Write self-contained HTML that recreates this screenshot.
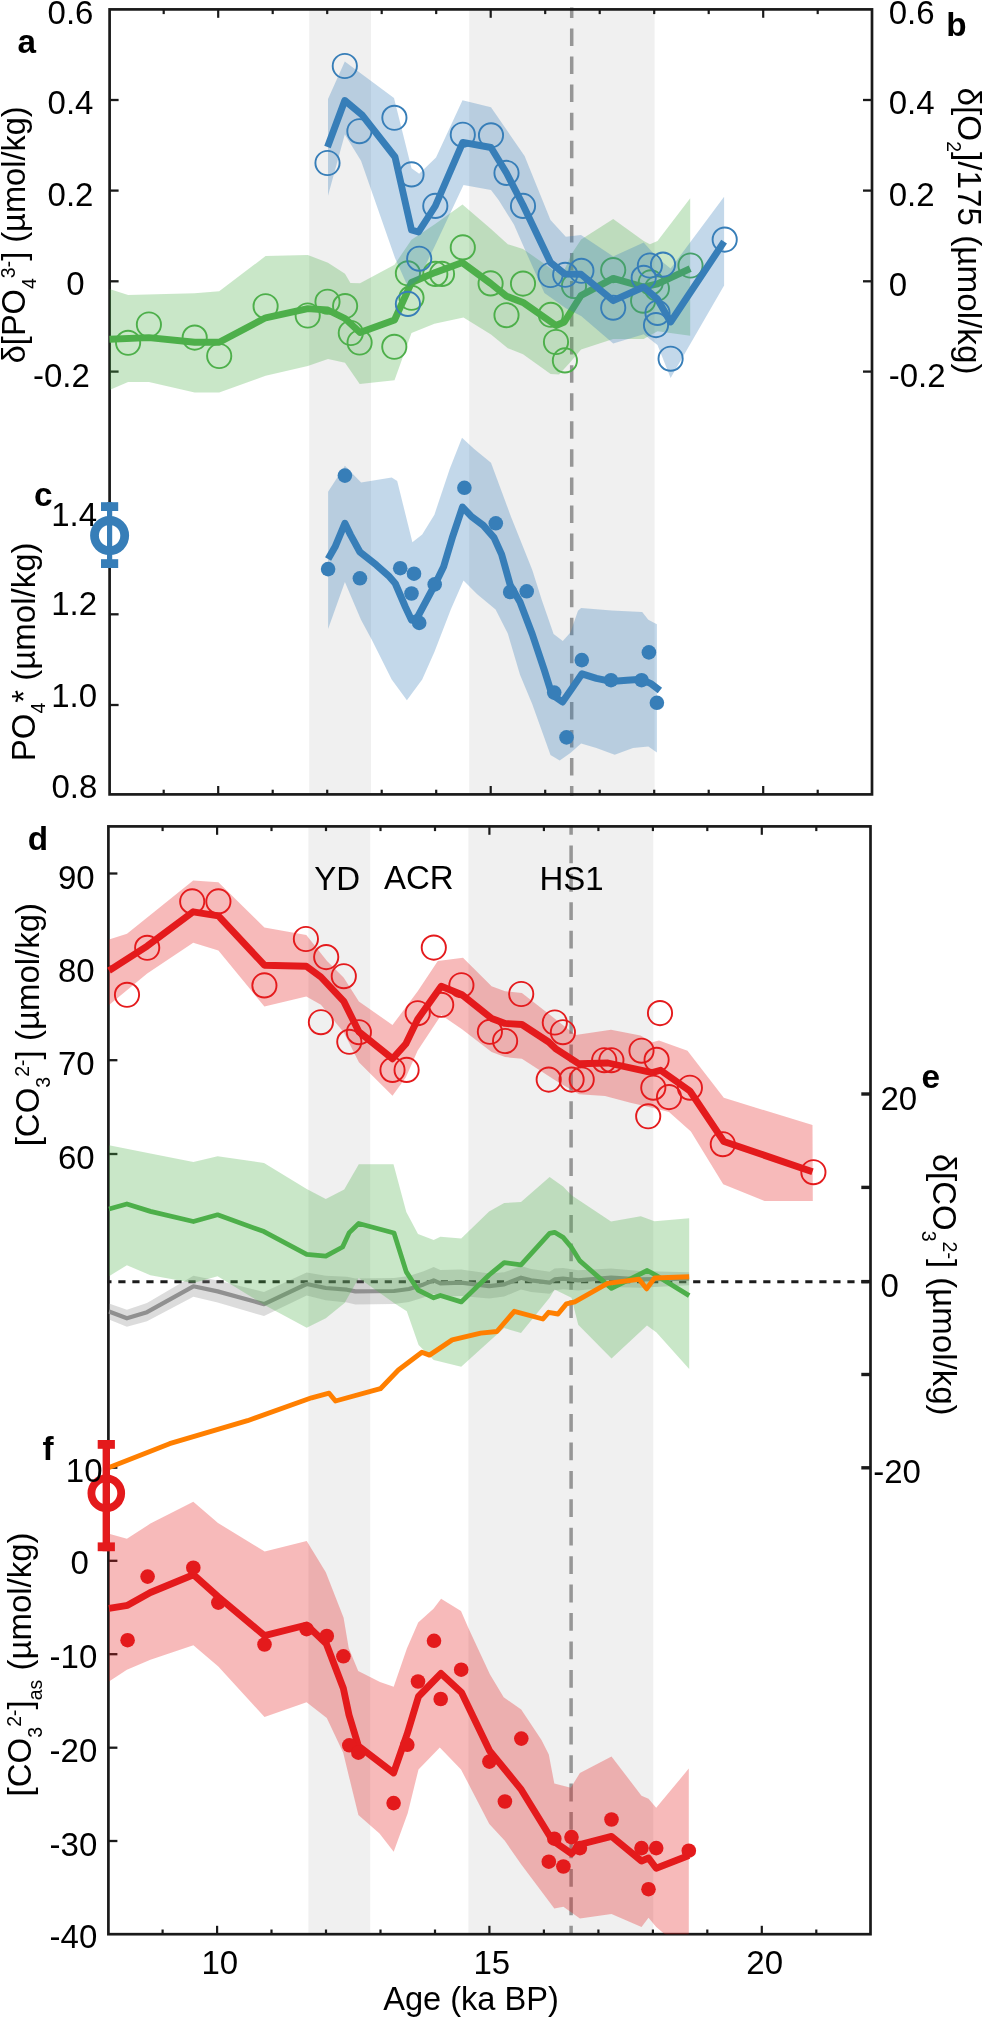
<!DOCTYPE html>
<html lang="en"><head><meta charset="utf-8"><title>Figure</title>
<style>html,body{margin:0;padding:0;background:#fff;}svg{display:block;will-change:transform;}text{font-family:'Liberation Sans', sans-serif;fill:#000;}</style>
</head><body>
<svg width="982" height="2017" viewBox="0 0 982 2017">
<rect width="982" height="2017" fill="#fff"/>
<defs>
<clipPath id="cT"><rect x="109.6" y="9.4" width="762.4" height="785.0"/></clipPath>
<clipPath id="cB"><rect x="108.4" y="826.4" width="762.1" height="1107.8"/></clipPath>
</defs>
<rect x="309.2" y="9.4" width="61.8" height="785.0" fill="#f0f0f0"/>
<rect x="469.2" y="9.4" width="185.4" height="785.0" fill="#f0f0f0"/>
<rect x="308.4" y="826.4" width="61.8" height="1107.8" fill="#f0f0f0"/>
<rect x="468.4" y="826.4" width="184.9" height="1107.8" fill="#f0f0f0"/>
<line x1="571.7" x2="571.7" y1="7.5" y2="796" stroke="#969696" stroke-width="3.5" stroke-dasharray="17.5 10.56" stroke-dashoffset="7.1"/>
<line x1="571.1" x2="571.1" y1="825.2" y2="1933" stroke="#969696" stroke-width="3.5" stroke-dasharray="17.8 10.63" stroke-dashoffset="8.2"/>
<g stroke="#1a1a1a" fill="none" stroke-linecap="butt">
<rect x="109.6" y="9.4" width="762.4" height="785.0" stroke-width="2.7"/>
<line x1="163.7" x2="163.7" y1="9.4" y2="14.1" stroke-width="2.2"/>
<line x1="163.7" x2="163.7" y1="794.4" y2="789.7" stroke-width="2.2"/>
<line x1="218.2" x2="218.2" y1="9.4" y2="17.8" stroke-width="2.2"/>
<line x1="218.2" x2="218.2" y1="794.4" y2="786.0" stroke-width="2.2"/>
<line x1="272.7" x2="272.7" y1="9.4" y2="14.1" stroke-width="2.2"/>
<line x1="272.7" x2="272.7" y1="794.4" y2="789.7" stroke-width="2.2"/>
<line x1="327.2" x2="327.2" y1="9.4" y2="14.1" stroke-width="2.2"/>
<line x1="327.2" x2="327.2" y1="794.4" y2="789.7" stroke-width="2.2"/>
<line x1="381.7" x2="381.7" y1="9.4" y2="14.1" stroke-width="2.2"/>
<line x1="381.7" x2="381.7" y1="794.4" y2="789.7" stroke-width="2.2"/>
<line x1="436.2" x2="436.2" y1="9.4" y2="14.1" stroke-width="2.2"/>
<line x1="436.2" x2="436.2" y1="794.4" y2="789.7" stroke-width="2.2"/>
<line x1="490.7" x2="490.7" y1="9.4" y2="17.8" stroke-width="2.2"/>
<line x1="490.7" x2="490.7" y1="794.4" y2="786.0" stroke-width="2.2"/>
<line x1="545.2" x2="545.2" y1="9.4" y2="14.1" stroke-width="2.2"/>
<line x1="545.2" x2="545.2" y1="794.4" y2="789.7" stroke-width="2.2"/>
<line x1="599.7" x2="599.7" y1="9.4" y2="14.1" stroke-width="2.2"/>
<line x1="599.7" x2="599.7" y1="794.4" y2="789.7" stroke-width="2.2"/>
<line x1="654.2" x2="654.2" y1="9.4" y2="14.1" stroke-width="2.2"/>
<line x1="654.2" x2="654.2" y1="794.4" y2="789.7" stroke-width="2.2"/>
<line x1="708.7" x2="708.7" y1="9.4" y2="14.1" stroke-width="2.2"/>
<line x1="708.7" x2="708.7" y1="794.4" y2="789.7" stroke-width="2.2"/>
<line x1="763.2" x2="763.2" y1="9.4" y2="17.8" stroke-width="2.2"/>
<line x1="763.2" x2="763.2" y1="794.4" y2="786.0" stroke-width="2.2"/>
<line x1="817.7" x2="817.7" y1="9.4" y2="14.1" stroke-width="2.2"/>
<line x1="817.7" x2="817.7" y1="794.4" y2="789.7" stroke-width="2.2"/>
</g>
<g stroke="#1a1a1a" fill="none" stroke-linecap="butt">
<rect x="108.4" y="826.4" width="762.1" height="1107.8" stroke-width="2.7"/>
<line x1="162.6" x2="162.6" y1="826.4" y2="831.1" stroke-width="2.2"/>
<line x1="162.6" x2="162.6" y1="1934.2" y2="1929.5" stroke-width="2.2"/>
<line x1="217.1" x2="217.1" y1="826.4" y2="834.8" stroke-width="2.2"/>
<line x1="217.1" x2="217.1" y1="1934.2" y2="1925.8" stroke-width="2.2"/>
<line x1="271.5" x2="271.5" y1="826.4" y2="831.1" stroke-width="2.2"/>
<line x1="271.5" x2="271.5" y1="1934.2" y2="1929.5" stroke-width="2.2"/>
<line x1="326.0" x2="326.0" y1="826.4" y2="831.1" stroke-width="2.2"/>
<line x1="326.0" x2="326.0" y1="1934.2" y2="1929.5" stroke-width="2.2"/>
<line x1="380.5" x2="380.5" y1="826.4" y2="831.1" stroke-width="2.2"/>
<line x1="380.5" x2="380.5" y1="1934.2" y2="1929.5" stroke-width="2.2"/>
<line x1="435.0" x2="435.0" y1="826.4" y2="831.1" stroke-width="2.2"/>
<line x1="435.0" x2="435.0" y1="1934.2" y2="1929.5" stroke-width="2.2"/>
<line x1="489.4" x2="489.4" y1="826.4" y2="834.8" stroke-width="2.2"/>
<line x1="489.4" x2="489.4" y1="1934.2" y2="1925.8" stroke-width="2.2"/>
<line x1="543.9" x2="543.9" y1="826.4" y2="831.1" stroke-width="2.2"/>
<line x1="543.9" x2="543.9" y1="1934.2" y2="1929.5" stroke-width="2.2"/>
<line x1="598.4" x2="598.4" y1="826.4" y2="831.1" stroke-width="2.2"/>
<line x1="598.4" x2="598.4" y1="1934.2" y2="1929.5" stroke-width="2.2"/>
<line x1="652.9" x2="652.9" y1="826.4" y2="831.1" stroke-width="2.2"/>
<line x1="652.9" x2="652.9" y1="1934.2" y2="1929.5" stroke-width="2.2"/>
<line x1="707.3" x2="707.3" y1="826.4" y2="831.1" stroke-width="2.2"/>
<line x1="707.3" x2="707.3" y1="1934.2" y2="1929.5" stroke-width="2.2"/>
<line x1="761.8" x2="761.8" y1="826.4" y2="834.8" stroke-width="2.2"/>
<line x1="761.8" x2="761.8" y1="1934.2" y2="1925.8" stroke-width="2.2"/>
<line x1="816.3" x2="816.3" y1="826.4" y2="831.1" stroke-width="2.2"/>
<line x1="816.3" x2="816.3" y1="1934.2" y2="1929.5" stroke-width="2.2"/>
</g>
<g stroke="#1a1a1a" stroke-width="2.3">
<line x1="109.6" x2="118.6" y1="100.0" y2="100.0"/>
<line x1="109.6" x2="118.6" y1="190.6" y2="190.6"/>
<line x1="109.6" x2="118.6" y1="281.3" y2="281.3"/>
<line x1="109.6" x2="118.6" y1="371.6" y2="371.6"/>
<line x1="109.6" x2="118.6" y1="523.4" y2="523.4"/>
<line x1="109.6" x2="118.6" y1="614.3" y2="614.3"/>
<line x1="109.6" x2="118.6" y1="705.0" y2="705.0"/>
</g>
<g stroke="#1a1a1a" stroke-width="2.3">
<line x1="872.0" x2="863.0" y1="100.0" y2="100.0"/>
<line x1="872.0" x2="863.0" y1="190.6" y2="190.6"/>
<line x1="872.0" x2="863.0" y1="281.3" y2="281.3"/>
<line x1="872.0" x2="863.0" y1="371.6" y2="371.6"/>
</g>
<g stroke="#1a1a1a" stroke-width="2.3">
<line x1="108.4" x2="117.4" y1="873.5" y2="873.5"/>
<line x1="108.4" x2="117.4" y1="966.8" y2="966.8"/>
<line x1="108.4" x2="117.4" y1="1060.2" y2="1060.2"/>
<line x1="108.4" x2="117.4" y1="1154.0" y2="1154.0"/>
<line x1="108.4" x2="117.4" y1="1467.7" y2="1467.7"/>
<line x1="108.4" x2="117.4" y1="1560.8" y2="1560.8"/>
<line x1="108.4" x2="117.4" y1="1654.2" y2="1654.2"/>
<line x1="108.4" x2="117.4" y1="1747.7" y2="1747.7"/>
<line x1="108.4" x2="117.4" y1="1841.0" y2="1841.0"/>
</g>
<g stroke="#1a1a1a" stroke-width="3.4">
<line x1="870.5" x2="861.3" y1="1094.0" y2="1094.0"/>
<line x1="870.5" x2="861.3" y1="1187.4" y2="1187.4"/>
<line x1="870.5" x2="861.3" y1="1281.6" y2="1281.6"/>
<line x1="870.5" x2="861.3" y1="1374.5" y2="1374.5"/>
<line x1="870.5" x2="861.3" y1="1467.8" y2="1467.8"/>
</g>
<line x1="107" x2="870.5" y1="1281.7" y2="1281.7" stroke="#1c1c1c" stroke-width="3" stroke-dasharray="7.2 6.82" stroke-dashoffset="2.7"/>
<g clip-path="url(#cT)">
<polygon points="109.5,289.0 128.1,294.9 194.7,293.3 219.2,291.2 265.6,256.1 307.8,255.1 328.0,262.7 345.0,273.8 350.4,283.0 360.0,283.3 394.5,264.7 411.5,239.7 434.4,224.4 462.5,204.6 491.0,229.0 507.8,244.3 523.0,248.9 556.0,272.0 564.3,270.0 572.0,253.3 581.1,239.6 613.2,219.1 643.7,241.1 649.9,244.2 657.5,241.1 690.2,198.3 690.2,335.8 657.5,331.2 643.7,338.9 613.2,338.9 581.1,349.6 570.0,362.5 559.0,374.5 550.6,374.1 523.0,354.3 507.8,348.2 491.0,334.4 463.5,317.6 434.4,323.7 411.5,332.9 394.5,380.3 359.7,384.1 345.0,362.8 328.0,359.0 307.8,366.0 265.6,375.8 219.2,392.6 194.7,392.6 148.9,381.9 128.1,381.9 109.5,390.0" fill="#4daf4a" fill-opacity="0.3" />
</g>
<polyline points="109.5,339.2 148.9,337.6 194.7,342.2 219.2,342.2 265.6,317.8 307.8,308.6 327.8,310.0 345.0,318.5 360.0,332.6 394.5,320.0 411.5,282.5 435.3,272.4 462.3,262.6 490.6,283.4 506.5,296.2 523.0,302.4 556.0,325.5 564.3,322.0 581.0,295.5 613.2,278.4 643.7,287.0 657.5,283.9 690.2,268.6" fill="none" stroke="#4daf4a" stroke-width="6.9" stroke-linejoin="round" stroke-linecap="butt" />
<g fill="none" stroke="#4daf4a" stroke-width="1.9">
<circle cx="128.1" cy="342.8" r="12.1"/>
<circle cx="148.9" cy="324.5" r="12.1"/>
<circle cx="194.7" cy="337.6" r="12.1"/>
<circle cx="219.2" cy="356.0" r="12.1"/>
<circle cx="265.6" cy="306.2" r="12.1"/>
<circle cx="307.7" cy="315.5" r="12.1"/>
<circle cx="327.5" cy="301.7" r="12.1"/>
<circle cx="345.1" cy="306.1" r="12.1"/>
<circle cx="350.8" cy="333.0" r="12.1"/>
<circle cx="359.6" cy="342.5" r="12.1"/>
<circle cx="394.3" cy="346.8" r="12.1"/>
<circle cx="407.9" cy="273.3" r="12.1"/>
<circle cx="411.5" cy="297.8" r="12.1"/>
<circle cx="435.3" cy="273.9" r="12.1"/>
<circle cx="442.0" cy="273.9" r="12.1"/>
<circle cx="462.8" cy="247.4" r="12.1"/>
<circle cx="490.6" cy="283.4" r="12.1"/>
<circle cx="523.0" cy="283.6" r="12.1"/>
<circle cx="506.5" cy="315.2" r="12.1"/>
<circle cx="550.8" cy="314.8" r="12.1"/>
<circle cx="556.0" cy="342.0" r="12.1"/>
<circle cx="564.9" cy="360.4" r="12.1"/>
<circle cx="574.0" cy="286.0" r="12.1"/>
<circle cx="613.2" cy="270.1" r="12.1"/>
<circle cx="643.1" cy="300.7" r="12.1"/>
<circle cx="650.8" cy="282.4" r="12.1"/>
<circle cx="656.9" cy="288.5" r="12.1"/>
<circle cx="690.5" cy="265.5" r="12.1"/>
</g>
<g clip-path="url(#cT)">
<polygon points="328.0,99.0 344.8,61.4 394.0,98.0 411.5,168.3 419.2,173.8 436.0,157.6 462.5,100.2 491.0,107.2 524.6,156.1 550.5,220.0 565.8,236.8 581.0,235.0 613.2,256.4 643.7,242.6 657.5,258.0 670.6,268.6 724.1,196.8 724.1,285.4 670.6,378.0 657.5,345.0 643.7,334.3 613.2,343.5 581.1,316.0 565.8,308.3 544.4,293.0 526.0,252.0 513.9,224.4 498.6,200.0 491.0,190.0 463.5,185.0 435.3,245.0 418.5,280.0 408.0,287.0 395.0,258.0 361.0,160.7 344.8,134.6 328.0,195.7" fill="#377eb8" fill-opacity="0.3" />
<polygon points="328.1,491.8 344.9,465.8 361.1,482.6 391.7,477.4 397.2,481.1 412.4,542.2 422.2,534.6 434.4,514.7 449.7,468.9 462.0,437.7 474.2,449.0 491.0,462.8 510.8,516.2 532.2,569.7 541.8,600.0 553.6,634.0 562.8,641.1 570.4,632.5 578.0,610.7 581.1,608.1 611.7,610.6 642.2,612.1 648.3,619.7 656.9,624.3 656.9,752.6 648.3,746.5 633.0,748.0 614.7,754.8 596.4,748.0 581.1,743.5 570.4,753.0 559.7,760.6 550.5,755.0 532.2,703.9 520.0,674.7 507.8,633.6 495.6,609.4 477.2,594.2 463.5,580.4 451.0,609.0 434.4,652.0 422.2,679.4 406.9,700.2 391.7,679.4 371.8,639.7 361.1,620.0 344.9,581.9 328.1,629.0" fill="#377eb8" fill-opacity="0.3" />
</g>
<polyline points="327.5,147.0 344.8,100.5 362.0,114.8 395.0,157.0 411.5,230.0 418.5,232.0 435.3,206.0 462.8,142.4 491.0,147.5 506.5,173.0 523.0,205.0 550.5,262.5 564.8,274.0 581.1,274.3 613.2,300.7 643.7,287.0 657.5,299.2 670.6,322.0 724.1,241.7" fill="none" stroke="#377eb8" stroke-width="6.9" stroke-linejoin="round" stroke-linecap="butt" />
<polyline points="328.1,559.0 335.1,546.8 344.9,523.3 350.4,534.6 359.9,552.0 376.4,565.1 388.6,575.8 395.3,583.5 405.4,607.0 411.5,620.0 417.6,617.0 434.7,585.0 443.6,566.7 452.8,536.1 462.5,507.1 471.1,516.2 483.3,525.4 494.0,537.6 501.6,554.4 510.2,585.0 520.0,602.0 532.2,634.0 544.4,670.3 552.0,694.6 562.5,702.0 571.9,688.5 582.0,673.8 596.4,678.4 611.0,681.4 626.9,680.2 641.6,679.3 651.4,683.9 659.9,690.6" fill="none" stroke="#377eb8" stroke-width="7.0" stroke-linejoin="round" stroke-linecap="butt" />
<g fill="none" stroke="#377eb8" stroke-width="1.9">
<circle cx="327.5" cy="163.0" r="12.1"/>
<circle cx="344.8" cy="66.0" r="12.1"/>
<circle cx="359.4" cy="131.2" r="12.1"/>
<circle cx="394.4" cy="117.8" r="12.1"/>
<circle cx="411.5" cy="174.4" r="12.1"/>
<circle cx="435.3" cy="205.9" r="12.1"/>
<circle cx="419.2" cy="258.7" r="12.1"/>
<circle cx="407.9" cy="303.9" r="12.1"/>
<circle cx="462.8" cy="134.7" r="12.1"/>
<circle cx="491.0" cy="135.3" r="12.1"/>
<circle cx="506.5" cy="172.9" r="12.1"/>
<circle cx="523.0" cy="205.9" r="12.1"/>
<circle cx="550.5" cy="275.0" r="12.1"/>
<circle cx="565.2" cy="274.8" r="12.1"/>
<circle cx="581.4" cy="270.8" r="12.1"/>
<circle cx="613.2" cy="307.7" r="12.1"/>
<circle cx="643.7" cy="277.8" r="12.1"/>
<circle cx="649.9" cy="265.5" r="12.1"/>
<circle cx="663.0" cy="264.6" r="12.1"/>
<circle cx="657.5" cy="312.9" r="12.1"/>
<circle cx="656.0" cy="325.1" r="12.1"/>
<circle cx="670.6" cy="358.7" r="12.1"/>
<circle cx="724.7" cy="239.6" r="12.1"/>
</g>
<g fill="#377eb8">
<circle cx="328.1" cy="569.1" r="7.3"/>
<circle cx="344.9" cy="475.6" r="7.3"/>
<circle cx="359.9" cy="578.3" r="7.3"/>
<circle cx="400.2" cy="568.2" r="7.3"/>
<circle cx="414.0" cy="573.7" r="7.3"/>
<circle cx="411.5" cy="593.5" r="7.3"/>
<circle cx="419.2" cy="622.9" r="7.3"/>
<circle cx="434.7" cy="584.4" r="7.3"/>
<circle cx="464.4" cy="487.8" r="7.3"/>
<circle cx="495.8" cy="523.3" r="7.3"/>
<circle cx="510.2" cy="592.0" r="7.3"/>
<circle cx="526.7" cy="591.3" r="7.3"/>
<circle cx="554.2" cy="692.6" r="7.3"/>
<circle cx="566.5" cy="737.4" r="7.3"/>
<circle cx="581.8" cy="660.1" r="7.3"/>
<circle cx="611.0" cy="680.2" r="7.3"/>
<circle cx="641.6" cy="680.2" r="7.3"/>
<circle cx="648.9" cy="652.4" r="7.3"/>
<circle cx="656.9" cy="702.8" r="7.3"/>
</g>
<g clip-path="url(#cB)">
<polygon points="109.0,1303.5 126.9,1309.8 147.0,1303.1 193.4,1275.8 217.6,1280.4 264.0,1292.1 306.7,1272.4 325.8,1275.8 347.0,1276.8 355.4,1278.4 394.0,1278.0 409.0,1275.9 423.6,1271.2 433.7,1267.1 440.4,1270.0 461.2,1269.5 489.1,1273.6 504.2,1272.3 521.0,1266.0 531.1,1268.9 549.6,1271.7 554.6,1268.5 563.1,1268.1 578.2,1270.2 611.1,1268.4 640.3,1271.1 689.1,1272.2 689.1,1285.2 640.3,1287.7 611.1,1287.0 578.2,1290.6 563.1,1289.3 554.6,1290.3 549.6,1293.7 531.1,1291.9 521.0,1289.4 504.2,1296.5 489.1,1298.6 461.2,1295.9 440.4,1296.8 433.7,1293.7 423.6,1297.6 409.0,1302.1 394.0,1304.0 355.4,1304.4 347.0,1302.6 325.8,1300.2 306.7,1295.6 264.0,1316.1 217.6,1302.4 193.4,1296.8 147.0,1321.3 126.9,1326.8 109.0,1319.5" fill="#8c8c8c" fill-opacity="0.3" />
<polyline points="109.0,1311.5 126.9,1318.3 147.0,1312.2 193.4,1286.3 217.6,1291.4 264.0,1304.1 306.7,1284.0 325.8,1288.0 347.0,1289.7 355.4,1291.4 394.0,1291.0 409.0,1289.0 423.6,1284.4 433.7,1280.4 440.4,1283.4 461.2,1282.7 489.1,1286.1 504.2,1284.4 521.0,1277.7 531.1,1280.4 549.6,1282.7 554.6,1279.4 563.1,1278.7 578.2,1280.4 611.1,1277.7 640.3,1279.4 689.1,1278.7" fill="none" stroke="#909090" stroke-width="4.2" stroke-linejoin="round" stroke-linecap="butt" />
<polygon points="109.0,1145.2 150.4,1153.6 193.4,1162.0 217.6,1156.3 264.0,1163.0 306.7,1188.9 325.8,1199.0 344.2,1189.4 358.8,1164.2 393.5,1164.2 406.3,1212.0 418.0,1234.1 433.7,1240.0 440.4,1236.7 461.2,1238.4 489.1,1211.5 504.2,1203.0 521.0,1202.0 549.6,1177.0 563.1,1186.4 571.5,1195.2 611.0,1221.5 640.8,1216.2 654.5,1221.2 689.2,1218.3 689.2,1369.0 656.5,1332.4 647.0,1325.5 611.5,1358.5 578.2,1324.7 571.5,1297.8 554.6,1289.4 549.6,1297.8 521.0,1333.1 504.2,1328.1 489.1,1341.5 461.2,1366.7 433.7,1360.0 418.6,1344.9 406.8,1311.3 394.0,1303.1 358.7,1277.9 344.6,1303.1 325.8,1318.3 306.7,1327.7 264.0,1304.8 217.6,1276.2 193.4,1283.0 150.4,1275.2 126.9,1265.2 109.0,1276.2" fill="#4daf4a" fill-opacity="0.3" />
<polygon points="109.0,939.4 127.0,933.7 193.2,880.6 218.4,882.2 264.4,927.6 306.3,935.0 327.0,961.0 343.8,977.8 358.9,1001.4 392.5,1025.0 417.7,991.3 437.8,961.0 463.0,957.7 491.6,986.2 505.1,991.3 521.9,993.0 555.5,1019.2 575.6,1035.1 611.0,1029.8 640.5,1035.6 652.2,1042.3 659.0,1040.6 687.5,1050.7 723.8,1097.8 812.5,1125.0 812.8,1201.0 764.6,1201.0 723.2,1184.3 690.9,1131.4 669.0,1112.0 652.2,1107.8 630.4,1102.8 605.0,1096.0 579.0,1094.2 555.5,1080.6 521.9,1058.8 505.1,1057.1 491.6,1052.1 462.0,1029.2 441.2,1015.0 417.7,1050.4 405.9,1077.3 392.5,1095.8 358.9,1062.2 343.8,1032.6 320.9,1004.7 306.3,996.4 264.4,1006.6 218.4,950.5 193.2,942.7 147.2,973.6 109.0,1004.9" fill="#e41a1c" fill-opacity="0.3" />
<polygon points="109.0,1533.7 126.9,1538.7 150.4,1523.6 193.3,1501.8 218.0,1523.0 264.7,1551.5 306.7,1541.1 325.8,1572.3 343.6,1617.7 348.7,1647.9 358.2,1671.0 380.0,1682.0 393.7,1686.7 406.9,1648.5 418.2,1622.5 433.5,1608.7 441.1,1598.7 461.0,1610.9 468.6,1628.6 490.0,1674.4 503.7,1697.3 521.2,1709.6 541.5,1740.0 548.8,1754.6 554.3,1783.5 570.8,1787.7 579.9,1773.0 611.5,1756.5 641.5,1795.7 648.5,1798.7 656.2,1807.8 688.8,1768.6 688.8,1950.0 671.6,1940.0 656.2,1927.0 648.5,1917.8 641.5,1927.0 611.5,1914.1 579.9,1918.5 563.4,1906.8 554.3,1908.6 521.3,1864.6 504.8,1840.8 489.3,1824.0 461.0,1769.4 439.8,1747.5 418.5,1769.4 407.7,1813.3 393.7,1851.8 379.5,1833.4 358.4,1814.9 349.3,1777.9 343.2,1752.7 326.8,1718.1 306.6,1702.3 264.5,1717.0 218.3,1666.4 193.4,1645.2 150.4,1659.7 126.9,1669.8 109.0,1681.5" fill="#e41a1c" fill-opacity="0.3" />
</g>
<polyline points="109.0,1209.0 126.9,1204.0 150.4,1211.4 193.4,1221.5 217.6,1214.8 264.0,1231.6 306.7,1254.4 325.8,1256.1 342.6,1247.0 349.3,1232.6 358.7,1223.5 394.0,1233.0 406.3,1271.9 418.0,1290.0 433.7,1297.8 440.4,1295.5 461.2,1301.9 489.1,1275.0 504.2,1262.6 521.0,1264.9 549.6,1233.3 554.6,1232.3 563.1,1237.4 571.5,1247.4 579.9,1260.9 611.5,1288.4 647.2,1270.5 655.5,1275.0 689.2,1295.6" fill="none" stroke="#4daf4a" stroke-width="4.8" stroke-linejoin="round" stroke-linecap="butt" />
<polyline points="109.1,1467.5 169.6,1443.7 247.5,1420.7 311.6,1397.8 329.1,1393.2 335.5,1401.0 380.4,1388.7 398.4,1370.0 421.9,1352.2 429.5,1355.1 452.2,1339.9 480.7,1333.1 496.9,1331.5 514.3,1311.3 542.9,1319.0 548.6,1312.3 558.0,1314.0 566.4,1303.9 574.8,1301.9 607.5,1283.4 639.0,1279.3 646.6,1288.8 654.6,1278.0 689.2,1276.8" fill="none" stroke="#ff7f00" stroke-width="4.9" stroke-linejoin="round" stroke-linecap="butt" />
<polyline points="109.0,970.6 147.2,946.1 193.2,911.8 218.4,915.8 264.4,965.2 306.3,966.2 320.9,977.0 343.8,1001.4 358.9,1031.8 392.5,1058.8 405.9,1043.7 417.7,1019.2 441.2,986.2 462.0,994.7 491.6,1018.4 505.1,1023.4 521.9,1024.5 548.7,1042.0 555.5,1048.6 579.0,1063.8 608.0,1063.0 652.2,1072.6 660.6,1070.2 689.9,1091.0 723.8,1141.5 812.5,1171.7" fill="none" stroke="#e41a1c" stroke-width="6.9" stroke-linejoin="round" stroke-linecap="butt" />
<polyline points="109.0,1608.3 127.6,1605.3 150.4,1592.5 193.4,1574.7 218.3,1596.9 264.5,1635.6 306.6,1625.0 326.3,1643.7 343.4,1688.6 349.0,1715.0 358.4,1746.0 393.6,1772.9 407.1,1734.2 418.5,1696.5 441.0,1673.5 461.5,1692.5 489.7,1751.0 504.9,1769.5 521.3,1789.7 552.5,1840.5 571.5,1853.6 579.9,1844.5 611.5,1836.4 641.5,1861.0 648.5,1858.0 656.2,1868.3 688.8,1855.5" fill="none" stroke="#e41a1c" stroke-width="6.9" stroke-linejoin="round" stroke-linecap="butt" />
<g fill="none" stroke="#e41a1c" stroke-width="1.9">
<circle cx="127.0" cy="994.8" r="12.1"/>
<circle cx="147.2" cy="947.8" r="12.1"/>
<circle cx="192.2" cy="901.4" r="12.1"/>
<circle cx="218.4" cy="901.4" r="12.1"/>
<circle cx="264.4" cy="985.4" r="12.1"/>
<circle cx="305.9" cy="939.0" r="12.1"/>
<circle cx="326.2" cy="957.1" r="12.1"/>
<circle cx="343.8" cy="976.2" r="12.1"/>
<circle cx="320.9" cy="1022.2" r="12.1"/>
<circle cx="358.9" cy="1032.2" r="12.1"/>
<circle cx="349.3" cy="1041.8" r="12.1"/>
<circle cx="392.5" cy="1069.9" r="12.1"/>
<circle cx="406.6" cy="1069.9" r="12.1"/>
<circle cx="417.7" cy="1013.2" r="12.1"/>
<circle cx="441.2" cy="1004.8" r="12.1"/>
<circle cx="433.8" cy="947.6" r="12.1"/>
<circle cx="461.4" cy="985.2" r="12.1"/>
<circle cx="489.9" cy="1031.8" r="12.1"/>
<circle cx="505.1" cy="1041.0" r="12.1"/>
<circle cx="521.2" cy="994.0" r="12.1"/>
<circle cx="554.8" cy="1022.5" r="12.1"/>
<circle cx="562.9" cy="1032.2" r="12.1"/>
<circle cx="548.7" cy="1079.6" r="12.1"/>
<circle cx="571.6" cy="1079.6" r="12.1"/>
<circle cx="581.7" cy="1079.5" r="12.1"/>
<circle cx="604.2" cy="1060.2" r="12.1"/>
<circle cx="611.4" cy="1060.2" r="12.1"/>
<circle cx="660.0" cy="1013.1" r="12.1"/>
<circle cx="641.5" cy="1050.7" r="12.1"/>
<circle cx="656.6" cy="1059.8" r="12.1"/>
<circle cx="653.3" cy="1087.7" r="12.1"/>
<circle cx="669.0" cy="1097.1" r="12.1"/>
<circle cx="648.2" cy="1116.3" r="12.1"/>
<circle cx="689.9" cy="1087.7" r="12.1"/>
<circle cx="722.8" cy="1144.2" r="12.1"/>
<circle cx="813.4" cy="1172.2" r="12.1"/>
</g>
<g fill="#e41a1c">
<circle cx="127.6" cy="1640.2" r="7.3"/>
<circle cx="147.6" cy="1576.6" r="7.3"/>
<circle cx="193.3" cy="1567.7" r="7.3"/>
<circle cx="218.3" cy="1602.6" r="7.3"/>
<circle cx="264.5" cy="1644.5" r="7.3"/>
<circle cx="306.6" cy="1629.2" r="7.3"/>
<circle cx="326.8" cy="1636.0" r="7.3"/>
<circle cx="343.4" cy="1656.3" r="7.3"/>
<circle cx="349.3" cy="1745.3" r="7.3"/>
<circle cx="358.4" cy="1752.7" r="7.3"/>
<circle cx="393.6" cy="1803.1" r="7.3"/>
<circle cx="407.3" cy="1744.8" r="7.3"/>
<circle cx="418.0" cy="1681.5" r="7.3"/>
<circle cx="434.0" cy="1640.8" r="7.3"/>
<circle cx="440.7" cy="1699.0" r="7.3"/>
<circle cx="461.2" cy="1669.7" r="7.3"/>
<circle cx="489.4" cy="1761.6" r="7.3"/>
<circle cx="504.9" cy="1801.5" r="7.3"/>
<circle cx="521.3" cy="1738.6" r="7.3"/>
<circle cx="554.3" cy="1838.7" r="7.3"/>
<circle cx="548.8" cy="1861.7" r="7.3"/>
<circle cx="563.4" cy="1866.5" r="7.3"/>
<circle cx="571.5" cy="1837.1" r="7.3"/>
<circle cx="579.9" cy="1848.1" r="7.3"/>
<circle cx="611.5" cy="1819.5" r="7.3"/>
<circle cx="641.5" cy="1848.1" r="7.3"/>
<circle cx="656.2" cy="1848.1" r="7.3"/>
<circle cx="648.5" cy="1889.2" r="7.3"/>
<circle cx="688.8" cy="1850.7" r="7.3"/>
</g>
<g fill="#377eb8" stroke="none">
<rect x="107.0" y="502.2" width="5.2" height="65.8"/>
<rect x="101.0" y="502.2" width="17.2" height="8.8"/>
<rect x="101.0" y="559.2" width="17.2" height="8.8"/>
</g>
<circle cx="109.6" cy="535.6" r="15.1" fill="none" stroke="#377eb8" stroke-width="8.8"/>
<g fill="#e41a1c" stroke="none">
<rect x="102.6" y="1440.0" width="7.3" height="111.2"/>
<rect x="97.7" y="1440.0" width="17.2" height="8.8"/>
<rect x="97.7" y="1542.4" width="17.2" height="8.8"/>
</g>
<circle cx="106.3" cy="1493.3" r="14.9" fill="none" stroke="#e41a1c" stroke-width="7.8"/>
<text x="47.6" y="23.6" font-size="33" text-anchor="start" font-weight="normal" >0.6</text>
<text x="47.6" y="114.2" font-size="33" text-anchor="start" font-weight="normal" >0.4</text>
<text x="47.6" y="205.5" font-size="33" text-anchor="start" font-weight="normal" >0.2</text>
<text x="66.3" y="295.0" font-size="33" text-anchor="start" font-weight="normal" >0</text>
<text x="33.0" y="387.1" font-size="33" text-anchor="start" font-weight="normal" >-0.2</text>
<text x="888.7" y="23.6" font-size="33" text-anchor="start" font-weight="normal" >0.6</text>
<text x="888.7" y="114.2" font-size="33" text-anchor="start" font-weight="normal" >0.4</text>
<text x="888.7" y="205.8" font-size="33" text-anchor="start" font-weight="normal" >0.2</text>
<text x="888.7" y="295.8" font-size="33" text-anchor="start" font-weight="normal" >0</text>
<text x="888.7" y="387.0" font-size="33" text-anchor="start" font-weight="normal" >-0.2</text>
<text x="51.2" y="525.5" font-size="33" text-anchor="start" font-weight="normal" >1.4</text>
<text x="51.2" y="614.8" font-size="33" text-anchor="start" font-weight="normal" >1.2</text>
<text x="51.2" y="706.7" font-size="33" text-anchor="start" font-weight="normal" >1.0</text>
<text x="51.5" y="797.7" font-size="33" text-anchor="start" font-weight="normal" >0.8</text>
<text x="58.0" y="888.8" font-size="33" text-anchor="start" font-weight="normal" >90</text>
<text x="58.0" y="982.1" font-size="33" text-anchor="start" font-weight="normal" >80</text>
<text x="58.0" y="1075.2" font-size="33" text-anchor="start" font-weight="normal" >70</text>
<text x="58.0" y="1169.0" font-size="33" text-anchor="start" font-weight="normal" >60</text>
<text x="65.8" y="1482.3" font-size="33" text-anchor="start" font-weight="normal" >10</text>
<text x="70.6" y="1574.4" font-size="33" text-anchor="start" font-weight="normal" >0</text>
<text x="49.6" y="1668.3" font-size="33" text-anchor="start" font-weight="normal" >-10</text>
<text x="49.6" y="1761.9" font-size="33" text-anchor="start" font-weight="normal" >-20</text>
<text x="49.6" y="1855.5" font-size="33" text-anchor="start" font-weight="normal" >-30</text>
<text x="49.6" y="1948.4" font-size="33" text-anchor="start" font-weight="normal" >-40</text>
<text x="880.4" y="1110.2" font-size="33" text-anchor="start" font-weight="normal" >20</text>
<text x="880.4" y="1296.8" font-size="33" text-anchor="start" font-weight="normal" >0</text>
<text x="873.2" y="1483.4" font-size="33" text-anchor="start" font-weight="normal" >-20</text>
<text x="201.4" y="1973.8" font-size="33" text-anchor="start" font-weight="normal" >10</text>
<text x="473.4" y="1973.8" font-size="33" text-anchor="start" font-weight="normal" >15</text>
<text x="746.3" y="1973.8" font-size="33" text-anchor="start" font-weight="normal" >20</text>
<text x="383.2" y="2009.5" font-size="32.6" text-anchor="start" font-weight="normal" >Age (ka BP)</text>
<text x="314.3" y="889.6" font-size="33" text-anchor="start" font-weight="normal" >YD</text>
<text x="384.0" y="888.6" font-size="33" text-anchor="start" font-weight="normal" >ACR</text>
<text x="539.5" y="890.4" font-size="33" text-anchor="start" font-weight="normal" >HS1</text>
<text x="17.6" y="53.2" font-size="33.3" text-anchor="start" font-weight="bold" >a</text>
<text x="946.3" y="36.1" font-size="33.3" text-anchor="start" font-weight="bold" >b</text>
<text x="33.9" y="506.4" font-size="33.3" text-anchor="start" font-weight="bold" >c</text>
<text x="27.8" y="850.2" font-size="33.3" text-anchor="start" font-weight="bold" >d</text>
<text x="921.6" y="1088.4" font-size="33.3" text-anchor="start" font-weight="bold" >e</text>
<text x="42.6" y="1459.8" font-size="33.3" text-anchor="start" font-weight="bold" >f</text>
<text transform="translate(25.0 363.3) rotate(-90)" x="0" y="0"><tspan font-size="32.6" dy="0.0">δ[PO</tspan><tspan font-size="19.5" dy="10.9">4</tspan><tspan font-size="19.5" dy="-21.4">3-</tspan><tspan font-size="32.6" dy="10.5">] (µmol/kg)</tspan></text>
<text transform="translate(34.5 761.2) rotate(-90)" x="0" y="0"><tspan font-size="33" dy="0.0">PO</tspan><tspan font-size="19.5" dy="10.9">4</tspan><tspan font-size="33" dy="-10.9">* (µmol/kg)</tspan></text>
<text transform="translate(39.4 1146.3) rotate(-90)" x="0" y="0"><tspan font-size="33" dy="0.0">[CO</tspan><tspan font-size="19.5" dy="10.9">3</tspan><tspan font-size="19.5" dy="-21.4">2-</tspan><tspan font-size="33" dy="10.5">] (µmol/kg)</tspan></text>
<text transform="translate(31.3 1796.4) rotate(-90)" x="0" y="0"><tspan font-size="33" dy="0.0">[CO</tspan><tspan font-size="19.5" dy="10.9">3</tspan><tspan font-size="19.5" dy="-21.4">2-</tspan><tspan font-size="33" dy="10.5">]</tspan><tspan font-size="19.5" dy="10.9">as</tspan><tspan font-size="33" dy="-10.9"> (µmol/kg)</tspan></text>
<text transform="translate(958.2 87.6) rotate(90)" x="0" y="0"><tspan font-size="33.25" dy="0.0">δ[O</tspan><tspan font-size="19.5" dy="10.9">2</tspan><tspan font-size="33.25" dy="-10.9">]/175 (µmol/kg)</tspan></text>
<text transform="translate(932.7 1153.7) rotate(90)" x="0" y="0"><tspan font-size="33" dy="0.0">δ[CO</tspan><tspan font-size="19.5" dy="10.9">3</tspan><tspan font-size="19.5" dy="-21.4">2-</tspan><tspan font-size="33" dy="10.5">] (µmol/kg)</tspan></text>
</svg></body></html>
